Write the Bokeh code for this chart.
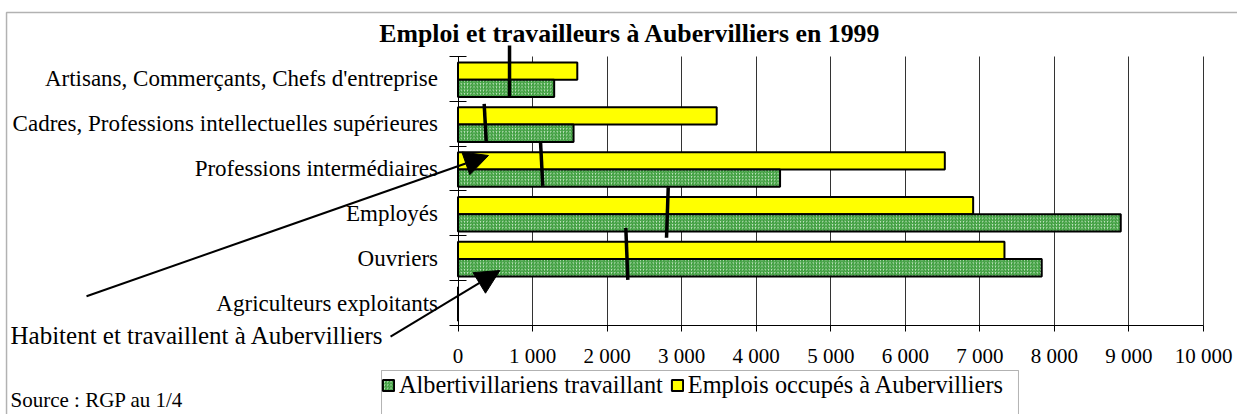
from bokeh.plotting import figure
from bokeh.models import (FixedTicker, Arrow, NormalHead, Label, Legend, LegendItem,
                          BoxAnnotation, Range1d)
from bokeh.embed import file_html
from bokeh.resources import INLINE

# ---- data ----
categories = ["Artisans, Commerçants, Chefs d'entreprise",
              "Cadres, Professions intellectuelles supérieures",
              "Professions intermédiaires",
              "Employés",
              "Ouvriers",
              "Agriculteurs exploitants"]
travaillant = [1290, 1550, 4320, 8890, 7830, 0]      # Albertivillariens travaillant
emplois = [1600, 3470, 6530, 6910, 7330, 0]          # Emplois occupés à Aubervilliers
habitent_haut = [691, 351, 1107, 2820, 2251]         # Habitent et travaillent (trait, haut)
habitent_bas = [691, 378, 1137, 2797, 2278]          # Habitent et travaillent (trait, bas)
x_ticks = [0, 1000, 2000, 3000, 4000, 5000, 6000, 7000, 8000, 9000, 10000]
x_tick_labels = ["0", "1 000", "2 000", "3 000", "4 000", "5 000", "6 000",
                 "7 000", "8 000", "9 000", "10 000"]

FONT = "Liberation Serif"
n = len(categories)
ypos = [n - 1 - i for i in range(n)]  # top category highest
y_lo, y_hi = -0.5, n - 0.5
x_lo, x_hi = x_ticks[0], x_ticks[-1]

# whole canvas is the frame; axes are pinned inside it
p = figure(width=1237, height=414, output_backend="svg", toolbar_location=None,
           x_range=Range1d(-6137, 10456), y_range=Range1d(-2.4851, 6.749),
           min_border=0, min_border_left=0, min_border_right=0,
           min_border_top=0, min_border_bottom=0)
p.outline_line_color = None
p.background_fill_color = "white"
p.border_fill_color = "white"

# bars
r_yel = p.hbar(y=[y + 0.174 for y in ypos], left=0, right=emplois, height=0.385,
               fill_color="#ffff00", line_color="black", line_width=2)
r_grn = p.hbar(y=[y - 0.212 for y in ypos], left=0, right=travaillant, height=0.385,
               fill_color="#cdeacd", line_color="black", line_width=2,
               hatch_pattern="right_diagonal_line", hatch_color="#2f962f",
               hatch_scale=3.2, hatch_weight=1.2)

# axes
p.xaxis.fixed_location = y_lo
p.xaxis.bounds = (x_lo, x_hi)
p.xaxis.ticker = FixedTicker(ticks=x_ticks)
p.xaxis.major_label_overrides = {t: l for t, l in zip(x_ticks, x_tick_labels)}
p.xaxis.major_label_text_font = FONT
p.xaxis.major_label_text_font_size = "21px"
p.xaxis.major_label_text_color = "black"
p.xaxis.major_tick_in = 0
p.xaxis.major_tick_out = 6
p.xaxis.minor_tick_line_color = None
p.xaxis.axis_line_color = "black"
p.xaxis.major_tick_line_color = "black"
p.xaxis.major_label_standoff = 12

p.yaxis.fixed_location = x_lo
p.yaxis.bounds = (y_lo, y_hi)
p.yaxis.ticker = FixedTicker(ticks=ypos, minor_ticks=[k - 0.5 for k in range(n + 1)])
p.yaxis.major_label_overrides = {y: c for y, c in zip(ypos, categories)}
p.yaxis.major_label_text_font = FONT
p.yaxis.major_label_text_font_size = "23px"
p.yaxis.major_label_text_color = "black"
p.yaxis.major_tick_line_color = None
p.yaxis.major_tick_in = 0
p.yaxis.major_tick_out = 0
p.yaxis.major_label_standoff = 11
p.yaxis.minor_tick_in = 8
p.yaxis.minor_tick_out = 9
p.yaxis.minor_tick_line_color = "black"
p.yaxis.axis_line_color = "black"

p.ygrid.grid_line_color = None
try:
    p.xgrid.cross_bounds = (y_lo, y_hi)
    p.xgrid.bounds = (x_ticks[1], x_hi)
    p.xgrid.grid_line_color = "#333333"
    p.xgrid.grid_line_width = 1
except Exception:
    p.xgrid.grid_line_color = None
    p.segment(x0=x_ticks[1:], x1=x_ticks[1:], y0=y_lo, y1=y_hi,
              line_color="#333333", line_width=1, level="underlay")

# "habitent et travaillent" strokes
trait_haut = [0.745, 0.445, 0.588, 0.585, 0.679]
trait_bas = [-0.386, -0.389, -0.384, -0.544, -0.481]
for i in range(len(habitent_haut)):
    p.add_layout(Arrow(end=None, x_start=habitent_haut[i], y_start=ypos[i] + trait_haut[i],
                       x_end=habitent_bas[i], y_end=ypos[i] + trait_bas[i],
                       line_color="black", line_width=3.5))

# pointing arrows
p.add_layout(Arrow(end=NormalHead(size=24, fill_color="black", line_color="black"),
                   x_start=-4983, y_start=0.153, x_end=409, y_end=3.292,
                   line_color="black", line_width=2))
p.add_layout(Arrow(end=NormalHead(size=24, fill_color="black", line_color="black"),
                   x_start=-905, y_start=-0.746, x_end=561, y_end=0.726,
                   line_color="black", line_width=2))

# texts
p.add_layout(Label(x=2307, y=6.013, text="Emploi et travailleurs à Aubervilliers en 1999",
                   text_font=FONT, text_font_size="25.8px", text_font_style="bold",
                   text_color="black", text_align="center", text_baseline="middle"))
p.add_layout(Label(x=-6003, y=-0.723, text="Habitent et travaillent à Aubervilliers",
                   text_font=FONT, text_font_size="25px", text_color="black",
                   text_align="left", text_baseline="middle"))
p.add_layout(Label(x=-6003, y=-2.17, text="Source : RGP au 1/4",
                   text_font=FONT, text_font_size="21px", text_color="black",
                   text_align="left", text_baseline="middle"))

# outer border and legend frame
p.add_layout(BoxAnnotation(left=-6056, right=10700, top=6.481, bottom=-2.8,
                           fill_alpha=0, line_color="black", line_width=1.5))
p.add_layout(BoxAnnotation(left=-1026, right=7518, top=-1.504, bottom=-2.8,
                           fill_alpha=0, line_color="black", line_width=1))

legend = Legend(items=[LegendItem(label="Albertivillariens travaillant", renderers=[r_grn]),
                       LegendItem(label="Emplois occupés à Aubervilliers", renderers=[r_yel])],
                orientation="horizontal", location=(381, 15),
                label_text_font=FONT, label_text_font_size="24.3px", label_text_color="black",
                glyph_width=14, glyph_height=14, label_standoff=4, spacing=7,
                padding=5, margin=0, border_line_color=None,
                background_fill_alpha=0)
p.add_layout(legend, "center")

open("out.html", "w").write(file_html(p, INLINE))
